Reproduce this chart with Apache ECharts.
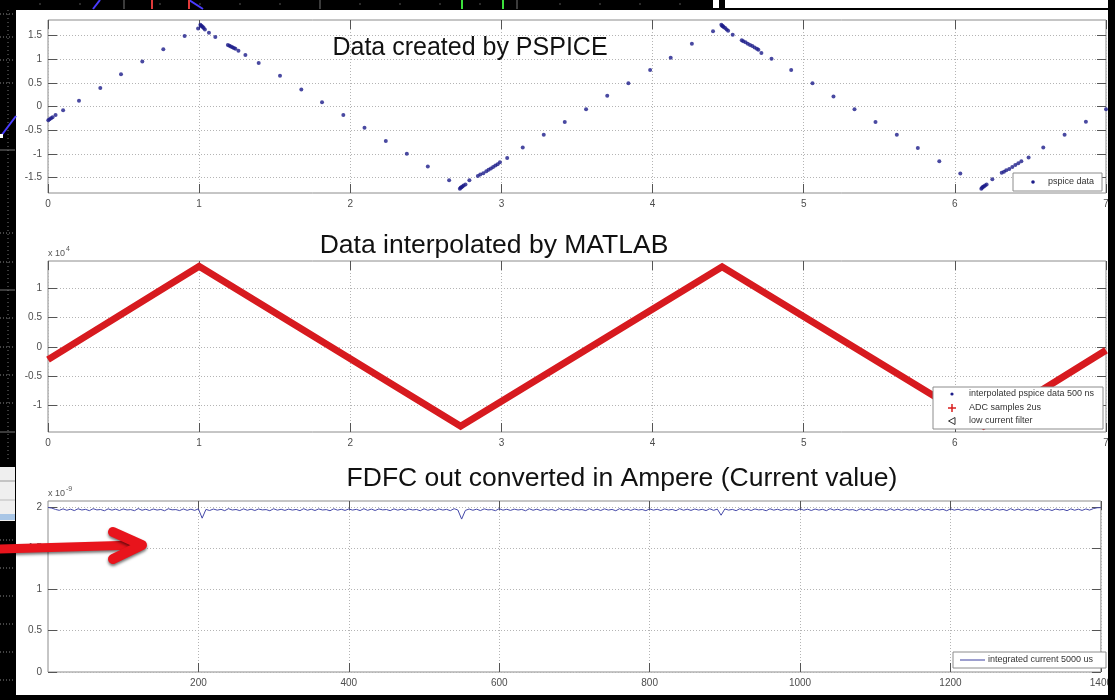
<!DOCTYPE html>
<html><head><meta charset="utf-8">
<script src="https://cdn.jsdelivr.net/npm/echarts@6/dist/echarts.min.js"></script>
<style>html,body{margin:0;padding:0;background:#fff}#c{width:1115px;height:700px}</style>
</head><body><div id="c"></div>
<script>
// ---------- DATA ----------
const titles = ['Data created by PSPICE', 'Data interpolated by MATLAB', 'FDFC out converted in Ampere (Current value)'];

const pspiceX = [0.002,0.01,0.02,0.03,0.05,0.10,0.205,0.346,0.483,0.624,0.763,0.904,0.993,
  1.008,1.013,1.018,1.024,1.03,1.038,1.065,1.107,
  1.19,1.20,1.21,1.22,1.23,1.24,1.26,
  1.306,1.394,1.535,1.676,1.813,1.954,2.094,2.235,2.374,2.513,2.654,
  2.725,2.73,2.735,2.742,2.75,2.762,2.788,
  2.844,2.86,2.88,2.90,2.915,2.93,2.945,2.96,2.975,2.99,
  3.038,3.141,3.28,3.419,3.56,3.70,3.84,3.984,4.12,4.26,4.40,
  4.455,4.46,4.465,4.47,4.48,4.49,4.50,4.53,
  4.59,4.60,4.615,4.63,4.645,4.66,4.675,4.69,4.70,
  4.72,4.787,4.917,5.058,5.197,5.336,5.475,5.616,5.755,5.897,6.036,
  6.175,6.18,6.186,6.192,6.20,6.21,6.248,
  6.31,6.325,6.34,6.36,6.38,6.40,6.42,6.44,
  6.488,6.585,6.726,6.867,7.0];
const pspiceY = [-0.29,-0.27,-0.25,-0.23,-0.18,-0.08,0.12,0.39,0.68,0.95,1.21,1.49,1.65,
  1.73,1.71,1.70,1.68,1.66,1.63,1.56,1.47,
  1.30,1.285,1.27,1.255,1.24,1.22,1.18,
  1.09,0.92,0.65,0.36,0.09,-0.18,-0.45,-0.73,-1.0,-1.27,-1.56,
  -1.74,-1.72,-1.71,-1.69,-1.67,-1.65,-1.56,
  -1.47,-1.44,-1.41,-1.37,-1.34,-1.31,-1.28,-1.25,-1.22,-1.18,
  -1.09,-0.87,-0.60,-0.33,-0.06,0.23,0.49,0.77,1.03,1.33,1.59,
  1.73,1.71,1.70,1.68,1.66,1.63,1.60,1.52,
  1.40,1.38,1.36,1.33,1.30,1.28,1.25,1.22,1.20,
  1.13,1.01,0.77,0.49,0.21,-0.06,-0.33,-0.60,-0.88,-1.16,-1.42,
  -1.74,-1.72,-1.70,-1.69,-1.67,-1.65,-1.54,
  -1.40,-1.38,-1.35,-1.32,-1.28,-1.24,-1.20,-1.16,
  -1.08,-0.87,-0.60,-0.32,-0.06];

// interpolated ADC samples (x 10^4)
const adcX = [0, 1.0, 2.73, 4.46, 6.19, 7];
const adcY = [-0.22, 1.38, -1.36, 1.37, -1.36, -0.06];

// integrated current (x 10^-9), sampled every 5 us from 0 to 1400 us
const currentStartUs = 0;
const currentStepUs = 5;
const currentVals = [
 1.992,1.984,1.968,1.957,1.975,1.958,1.971,1.954,1.976,1.961,1.969,1.953,1.977,1.962,1.967,1.952,1.975,1.959,1.972,1.955,
 1.974,1.961,1.966,1.953,1.978,1.958,1.970,1.955,1.973,1.960,1.968,1.952,1.976,1.963,1.966,1.954,1.974,1.957,1.971,1.956,
 1.975,1.862,1.968,1.955,1.973,1.959,1.969,1.953,1.977,1.961,1.967,1.954,1.975,1.958,1.971,1.955,1.973,1.962,1.966,1.952,
 1.976,1.959,1.970,1.956,1.972,1.960,1.968,1.953,1.977,1.958,1.971,1.955,1.974,1.961,1.966,1.952,1.976,1.959,1.970,1.956,
 1.973,1.960,1.969,1.954,1.977,1.957,1.972,1.955,1.974,1.962,1.967,1.953,1.975,1.959,1.971,1.956,1.973,1.961,1.968,1.952,
 1.976,1.958,1.970,1.955,1.974,1.960,1.969,1.953,1.977,1.961,1.851,1.956,1.973,1.958,1.971,1.954,1.975,1.962,1.966,1.953,
 1.977,1.959,1.970,1.956,1.972,1.961,1.968,1.952,1.976,1.958,1.971,1.955,1.974,1.960,1.967,1.953,1.977,1.959,1.970,1.956,
 1.973,1.962,1.966,1.954,1.976,1.957,1.971,1.955,1.975,1.960,1.968,1.952,1.977,1.958,1.972,1.956,1.973,1.961,1.967,1.953,
 1.975,1.959,1.970,1.955,1.974,1.961,1.968,1.953,1.977,1.958,1.971,1.956,1.973,1.960,1.969,1.954,1.976,1.957,1.972,1.898,
 1.974,1.960,1.968,1.953,1.977,1.958,1.971,1.955,1.974,1.962,1.967,1.952,1.976,1.959,1.970,1.956,1.973,1.961,1.968,1.954,
 1.976,1.958,1.971,1.955,1.973,1.960,1.969,1.953,1.977,1.959,1.970,1.956,1.974,1.961,1.966,1.952,1.975,1.958,1.972,1.955,
 1.973,1.962,1.967,1.954,1.976,1.957,1.971,1.956,1.974,1.960,1.968,1.953,1.977,1.958,1.970,1.955,1.973,1.961,1.969,1.952,
 1.975,1.959,1.970,1.956,1.972,1.961,1.967,1.953,1.976,1.958,1.971,1.955,1.974,1.960,1.968,1.954,1.977,1.957,1.972,1.956,
 1.974,1.961,1.966,1.952,1.976,1.959,1.970,1.955,1.973,1.962,1.968,1.953,1.975,1.958,1.971,1.956,1.974,1.960,1.978,1.988,
 1.990];

// tick values
const ticks1X = [0,1,2,3,4,5,6,7];
const ticks1Y = [-1.5,-1,-0.5,0,0.5,1,1.5];
const ticks2X = [0,1,2,3,4,5,6,7];
const ticks2Y = [-1,-0.5,0,0.5,1];
const ticks3X = [200,400,600,800,1000,1200,1400];
const ticks3Y = [0,0.5,1,1.5,2];

const legend1 = ['pspice data'];
const legend2 = ['interpolated pspice data 500 ns', 'ADC samples 2us', 'low current filter'];
const legend3 = ['integrated current 5000 us'];

// ---------- CHART ----------
const chart = echarts.init(document.getElementById('c'), null, {renderer: 'canvas'});

const FONT = 'Liberation Sans, Arial, sans-serif';
const grids = [
  {left: 48, top: 20, width: 1058, height: 173},
  {left: 48, top: 261, width: 1058, height: 171},
  {left: 48, top: 501, width: 1058, height: 171}
].map(g => Object.assign({show: true, borderColor: '#8c8c8c', borderWidth: 1, backgroundColor: 'transparent'}, g));

const xAxes = [], yAxes = [];
function addAxes(gi, xMin, xMax, xT, yMin, yMax, yT) {
  const lab = {color: '#4d4d4d', fontSize: 10, fontFamily: FONT, margin: 6};
  const tick = {show: true, inside: true, length: 9, lineStyle: {color: '#555', width: 1}};
  const split = {show: true, lineStyle: {color: '#b4b4b4', type: [1, 2], width: 1}};
  const line = {show: false, onZero: false};
  xAxes.push({type: 'value', gridIndex: gi, min: xMin, max: xMax, position: 'bottom',
    axisLine: line, axisTick: Object.assign({customValues: xT}, tick),
    axisLabel: Object.assign({customValues: xT, formatter: v => String(v)}, lab), splitLine: split});
  xAxes.push({type: 'value', gridIndex: gi, min: xMin, max: xMax, position: 'top',
    axisLine: line, axisTick: Object.assign({customValues: xT}, tick),
    axisLabel: {show: false}, splitLine: {show: false}});
  yAxes.push({type: 'value', gridIndex: gi, min: yMin, max: yMax, position: 'left',
    axisLine: line, axisTick: Object.assign({customValues: yT}, tick),
    axisLabel: Object.assign({customValues: yT, formatter: v => String(v)}, lab), splitLine: split});
  yAxes.push({type: 'value', gridIndex: gi, min: yMin, max: yMax, position: 'right',
    axisLine: line, axisTick: Object.assign({customValues: yT}, tick),
    axisLabel: {show: false}, splitLine: {show: false}});
}
addAxes(0, 0, 7, ticks1X, -1.83, 1.83, ticks1Y);
addAxes(1, 0, 7, ticks2X, -1.46, 1.47, ticks2Y);
addAxes(2, 0, 1400, ticks3X, 0, 2.07, ticks3Y);

const pspiceData = pspiceX.map((x, i) => [x, pspiceY[i]]);
const adcData = adcX.map((x, i) => [x, adcY[i]]);
const currentData = currentVals.map((v, i) => [currentStartUs + i * currentStepUs, v]);

// graphic decorations
const G = [];
const Z = 100;
// black screenshot surroundings
G.push({type: 'rect', z: Z, shape: {x: 0, y: 0, width: 713, height: 10}, style: {fill: '#000'}});
G.push({type: 'rect', z: Z, shape: {x: 719, y: 0, width: 6, height: 10}, style: {fill: '#000'}});
G.push({type: 'rect', z: Z, shape: {x: 0, y: 8, width: 1115, height: 2}, style: {fill: '#000'}});
G.push({type: 'rect', z: Z, shape: {x: 0, y: 0, width: 16, height: 700}, style: {fill: '#000'}});
G.push({type: 'rect', z: Z, shape: {x: 1108, y: 0, width: 7, height: 700}, style: {fill: '#000'}});
G.push({type: 'rect', z: Z, shape: {x: 0, y: 695, width: 1115, height: 5}, style: {fill: '#000'}});
// top strip marks
[124, 320, 517].forEach(x => G.push({type: 'line', z: Z + 1, shape: {x1: x, y1: 0, x2: x, y2: 9}, style: {stroke: '#777', lineWidth: 1}}));
[40, 80, 160, 200, 240, 280, 360, 400, 440, 480, 560, 600, 640, 680].forEach(x => G.push({type: 'line', z: Z + 1, shape: {x1: x, y1: 3, x2: x, y2: 5}, style: {stroke: '#555', lineWidth: 1}}));
G.push({type: 'line', z: Z + 1, shape: {x1: 93, y1: 9, x2: 100, y2: 0}, style: {stroke: '#4a3cff', lineWidth: 2}});
G.push({type: 'line', z: Z + 1, shape: {x1: 189, y1: 0, x2: 203, y2: 9}, style: {stroke: '#4a3cff', lineWidth: 2}});
[152, 189].forEach(x => G.push({type: 'line', z: Z + 1, shape: {x1: x, y1: 0, x2: x, y2: 9}, style: {stroke: '#e03a3a', lineWidth: 2}}));
[462, 503].forEach(x => G.push({type: 'line', z: Z + 1, shape: {x1: x, y1: 0, x2: x, y2: 9}, style: {stroke: '#3ce03c', lineWidth: 2}}));
// left strip marks
[14, 37, 60, 83, 233, 262, 318, 347, 375, 403, 540, 568, 596, 624, 652, 680].forEach(y => G.push({type: 'line', z: Z + 1, shape: {x1: 0, y1: y, x2: 15, y2: y}, style: {stroke: '#888', lineWidth: 1, lineDash: [1, 2]}}));
[150, 290, 432].forEach(y => G.push({type: 'line', z: Z + 1, shape: {x1: 0, y1: y, x2: 15, y2: y}, style: {stroke: '#777', lineWidth: 1}}));
G.push({type: 'line', z: Z + 1, shape: {x1: 8, y1: 10, x2: 8, y2: 460}, style: {stroke: '#777', lineWidth: 1, lineDash: [1, 3]}});
G.push({type: 'line', z: Z + 1, shape: {x1: 1, y1: 136, x2: 16, y2: 116}, style: {stroke: '#4a3cff', lineWidth: 2}});
G.push({type: 'rect', z: Z + 2, shape: {x: 0, y: 134, width: 3, height: 4}, style: {fill: '#fff'}});
G.push({type: 'rect', z: Z + 1, shape: {x: 0, y: 467, width: 15, height: 54}, style: {fill: '#efefef'}});
G.push({type: 'line', z: Z + 2, shape: {x1: 0, y1: 481, x2: 15, y2: 481}, style: {stroke: '#999', lineWidth: 1}});
G.push({type: 'line', z: Z + 2, shape: {x1: 0, y1: 500, x2: 15, y2: 500}, style: {stroke: '#bbb', lineWidth: 1}});
G.push({type: 'rect', z: Z + 2, shape: {x: 0, y: 514, width: 15, height: 6}, style: {fill: '#a9c6e6'}});

// titles
const titlePos = [[470, 48, 25], [494, 246, 26.5], [622, 479, 26.5]];
titles.forEach((t, i) => G.push({type: 'text', z: Z, x: titlePos[i][0], y: titlePos[i][1],
  style: {text: t, fill: '#111', fontSize: titlePos[i][2], fontFamily: FONT, textAlign: 'center', textVerticalAlign: 'middle'}}));

// exponent labels
const small = (x, y, t, fs) => ({type: 'text', z: Z, x: x, y: y, style: {text: t, fill: '#555', fontSize: fs, fontFamily: FONT, textAlign: 'left', textVerticalAlign: 'middle'}});
G.push(small(48, 254, 'x 10', 9), small(66, 249, '4', 7));
G.push(small(48, 494, 'x 10', 9), small(66, 489, '-9', 7));

// legend 1
G.push({type: 'rect', z: Z, shape: {x: 1013, y: 173, width: 89, height: 18}, style: {fill: '#fff', stroke: '#8c8c8c', lineWidth: 1}});
G.push({type: 'circle', z: Z, shape: {cx: 1033, cy: 182, r: 1.8}, style: {fill: '#1c1c8a'}});
G.push({type: 'text', z: Z, x: 1048, y: 182, style: {text: legend1[0], fill: '#333', fontSize: 9, fontFamily: FONT, textAlign: 'left', textVerticalAlign: 'middle'}});
// legend 2
G.push({type: 'rect', z: Z, shape: {x: 933, y: 387, width: 170, height: 42}, style: {fill: '#fff', stroke: '#8c8c8c', lineWidth: 1}});
G.push({type: 'circle', z: Z, shape: {cx: 952, cy: 394, r: 1.6}, style: {fill: '#1c1c8a'}});
G.push({type: 'line', z: Z, shape: {x1: 948, y1: 408, x2: 956, y2: 408}, style: {stroke: '#d81e1e', lineWidth: 1.5}});
G.push({type: 'line', z: Z, shape: {x1: 952, y1: 404, x2: 952, y2: 412}, style: {stroke: '#d81e1e', lineWidth: 1.5}});
G.push({type: 'polygon', z: Z, shape: {points: [[955, 417.5], [955, 424.5], [948.5, 421]]}, style: {fill: 'none', stroke: '#333', lineWidth: 1}});
legend2.forEach((t, i) => G.push({type: 'text', z: Z, x: 969, y: [394, 408, 421][i], style: {text: t, fill: '#333', fontSize: 9, fontFamily: FONT, textAlign: 'left', textVerticalAlign: 'middle'}}));
// legend 3
G.push({type: 'rect', z: Z, shape: {x: 953, y: 652, width: 153, height: 16}, style: {fill: '#fff', stroke: '#8c8c8c', lineWidth: 1}});
G.push({type: 'line', z: Z, shape: {x1: 960, y1: 660, x2: 985, y2: 660}, style: {stroke: '#3d41a0', lineWidth: 1}});
G.push({type: 'text', z: Z, x: 988, y: 660, style: {text: legend3[0], fill: '#333', fontSize: 9, fontFamily: FONT, textAlign: 'left', textVerticalAlign: 'middle'}});

// red annotation arrow
const arrowStyle = {stroke: '#e8141c', lineWidth: 9, lineCap: 'round', lineJoin: 'round', fill: 'none', shadowBlur: 3, shadowColor: 'rgba(0,0,0,0.55)', shadowOffsetY: 2};
G.push({type: 'polyline', z: Z + 5, shape: {points: [[-4, 549], [136, 545]]}, style: arrowStyle});
G.push({type: 'polyline', z: Z + 5, shape: {points: [[113, 532], [142, 545], [113, 559]]}, style: Object.assign({}, arrowStyle, {lineWidth: 10})});

chart.setOption({
  animation: false,
  backgroundColor: '#fff',
  grid: grids,
  xAxis: xAxes,
  yAxis: yAxes,
  series: [
    {name: legend1[0], type: 'scatter', xAxisIndex: 0, yAxisIndex: 0, data: pspiceData,
     symbol: 'circle', symbolSize: 4, itemStyle: {color: '#1c1c8a'}},
    {name: legend2[1], type: 'line', xAxisIndex: 2, yAxisIndex: 2, data: adcData,
     symbol: 'none', lineStyle: {color: '#d71a1f', width: 7, join: 'miter'}},
    {name: legend3[0], type: 'line', xAxisIndex: 4, yAxisIndex: 4, data: currentData,
     symbol: 'none', lineStyle: {color: '#4448a8', width: 1}}
  ],
  graphic: {elements: G}
});
</script></body></html>
